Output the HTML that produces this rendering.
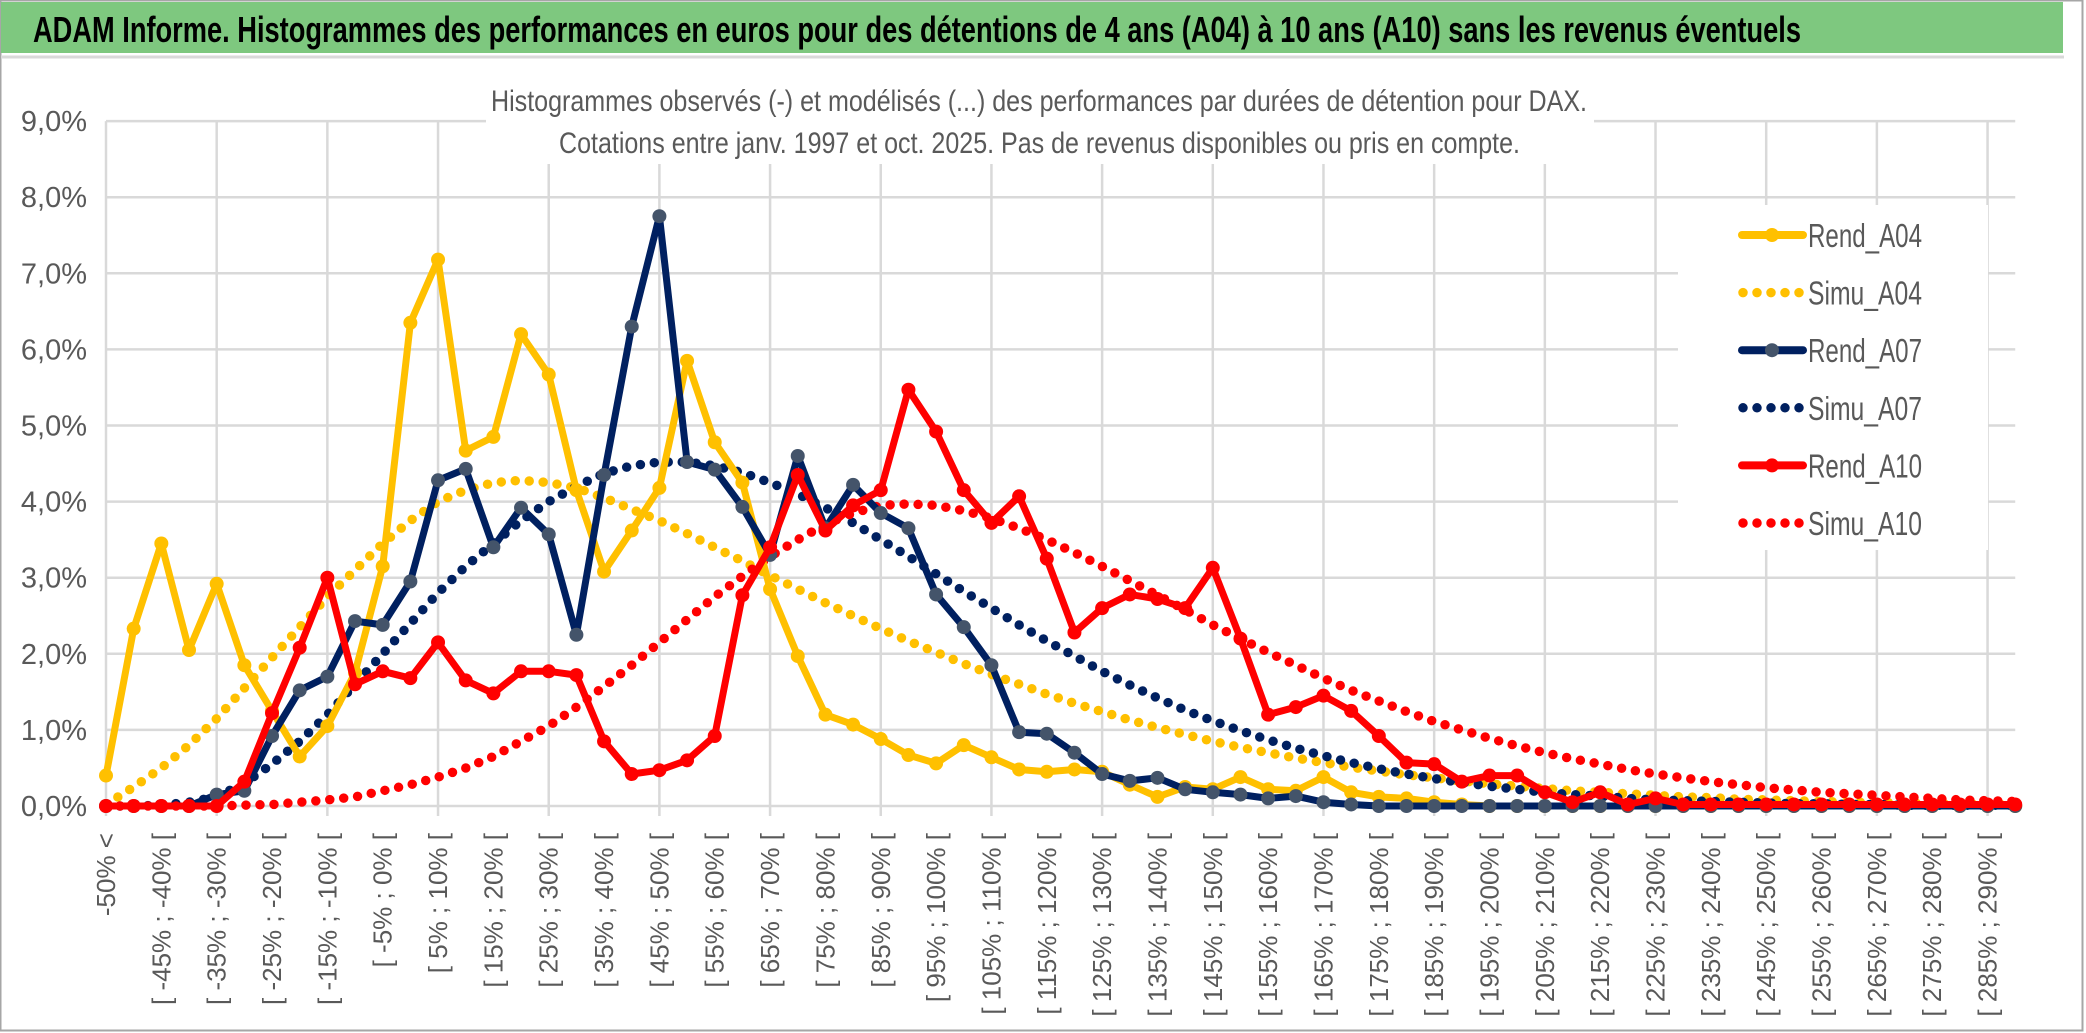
<!DOCTYPE html>
<html><head><meta charset="utf-8"><style>
html,body{margin:0;padding:0;background:#fff;}
svg{display:block;}
</style></head><body>
<svg id="chart" width="2086" height="1033" viewBox="0 0 2086 1033" xmlns="http://www.w3.org/2000/svg">
<rect x="0" y="0" width="2086" height="1033" fill="#fff"/>
<rect x="0.5" y="0.5" width="2082" height="1030" fill="none" stroke="#a6a6a6" stroke-width="2"/>
<rect x="1" y="2" width="2062" height="51" fill="#7ec87f"/>
<line x1="1" y1="57" x2="2064" y2="57" stroke="#d9d9d9" stroke-width="3"/>
<text x="33" y="42" font-family="'Liberation Sans Narrow','Liberation Sans',sans-serif" font-weight="bold" font-size="36" fill="#000" textLength="1768" lengthAdjust="spacingAndGlyphs">ADAM Informe. Histogrammes des performances en euros pour des détentions de 4 ans (A04) à 10 ans (A10) sans les revenus éventuels</text>
<g id="grid"></g>
<rect x="486" y="75" width="1108" height="89" fill="#fff"/>
<rect x="1678" y="205" width="310" height="345" fill="#fff"/>
<text x="491" y="111" font-family="'Liberation Sans Narrow','Liberation Sans',sans-serif" font-size="30" fill="#595959" textLength="1096" lengthAdjust="spacingAndGlyphs">Histogrammes observés (-) et modélisés (...) des performances par durées de détention pour DAX.</text>
<text x="559" y="153" font-family="'Liberation Sans Narrow','Liberation Sans',sans-serif" font-size="30" fill="#595959" textLength="961" lengthAdjust="spacingAndGlyphs">Cotations entre janv. 1997 et oct. 2025. Pas de revenus disponibles ou pris en compte.</text>
<g id="yaxis"></g>
<g id="xaxis"></g>
<g id="series"></g>
<g id="legend"></g>
</svg>
<script>
const categories = (function(){const c=["-50% <"];for(let k=1;k<70;k++){c.push("[ "+(-55+5*k)+"% ; "+(-50+5*k)+"% [");}return c;})();
const yTicks = [0,1,2,3,4,5,6,7,8,9];
const yTickLabels = ["0,0%","1,0%","2,0%","3,0%","4,0%","5,0%","6,0%","7,0%","8,0%","9,0%"];
const seriesNames = ["Rend_A04","Simu_A04","Rend_A07","Simu_A07","Rend_A10","Simu_A10"];
const rendA04 = [0.4,2.33,3.45,2.05,2.92,1.85,1.25,0.65,1.05,1.75,3.15,6.35,7.18,4.67,4.85,6.2,5.67,4.15,3.08,3.62,4.18,5.85,4.78,4.25,2.85,1.97,1.2,1.07,0.88,0.67,0.56,0.8,0.64,0.48,0.45,0.48,0.45,0.28,0.12,0.25,0.22,0.38,0.22,0.2,0.38,0.18,0.12,0.1,0.05,0.02,0,0,0,0,0,0,0,0,0,0,0,0,0,0,0,0,0,0,0,0];
const simuA04 = [0.02,0.25,0.5,0.8,1.15,1.55,1.95,2.35,2.75,3.1,3.45,3.75,4.0,4.15,4.25,4.28,4.25,4.18,4.05,3.9,3.75,3.58,3.4,3.22,3.03,2.85,2.67,2.5,2.33,2.17,2.02,1.87,1.73,1.6,1.47,1.35,1.24,1.13,1.03,0.94,0.85,0.77,0.7,0.63,0.57,0.51,0.46,0.41,0.37,0.33,0.29,0.26,0.23,0.2,0.18,0.16,0.14,0.12,0.11,0.09,0.08,0.07,0.06,0.05,0.05,0.04,0.03,0.03,0.03,0.02];
const rendA07 = [0,0,0,0,0.15,0.2,0.92,1.52,1.7,2.43,2.38,2.95,4.28,4.43,3.4,3.92,3.57,2.25,4.35,6.3,7.75,4.52,4.42,3.93,3.3,4.6,3.65,4.22,3.85,3.65,2.78,2.35,1.85,0.97,0.95,0.7,0.42,0.33,0.37,0.22,0.18,0.15,0.1,0.13,0.05,0.02,0,0,0,0,0,0,0,0,0,0,0,0,0,0,0,0,0,0,0,0,0,0,0,0];
const simuA07 = [0,0,0.01,0.05,0.12,0.3,0.55,0.85,1.2,1.6,2.0,2.4,2.8,3.15,3.45,3.75,4.0,4.2,4.37,4.47,4.52,4.52,4.47,4.38,4.25,4.1,3.92,3.72,3.5,3.28,3.05,2.82,2.6,2.38,2.17,1.97,1.77,1.59,1.42,1.26,1.12,0.99,0.87,0.76,0.66,0.57,0.49,0.42,0.36,0.31,0.26,0.22,0.18,0.15,0.13,0.1,0.08,0.07,0.06,0.05,0.04,0.03,0.03,0.02,0.02,0.01,0.01,0.01,0.01,0.01];
const rendA10 = [0,0,0,0,0,0.32,1.22,2.08,3.0,1.6,1.77,1.68,2.15,1.65,1.48,1.77,1.77,1.72,0.85,0.42,0.47,0.6,0.92,2.77,3.4,4.35,3.62,3.95,4.15,5.47,4.92,4.15,3.72,4.07,3.25,2.28,2.6,2.78,2.72,2.6,3.13,2.2,1.2,1.3,1.45,1.25,0.92,0.57,0.55,0.32,0.4,0.4,0.18,0.05,0.18,0.02,0.1,0.02,0.02,0.02,0.02,0.02,0.02,0.02,0.02,0.02,0.02,0.02,0.02,0.02];
const simuA10 = [0,0,0,0,0,0.01,0.02,0.05,0.08,0.12,0.2,0.28,0.38,0.5,0.65,0.85,1.05,1.3,1.57,1.85,2.15,2.45,2.75,3.02,3.28,3.5,3.7,3.85,3.95,3.97,3.95,3.88,3.78,3.65,3.5,3.33,3.15,2.96,2.77,2.58,2.38,2.2,2.02,1.85,1.68,1.52,1.38,1.24,1.11,1.0,0.89,0.79,0.7,0.62,0.55,0.48,0.42,0.37,0.32,0.28,0.24,0.21,0.18,0.16,0.14,0.12,0.1,0.08,0.07,0.06];

const NS="http://www.w3.org/2000/svg";
const X0=106, DX=27.67, Y0=806, DY=76.1;
function xs(i){return X0+i*DX;}
function ys(v){return Y0-v*DY;}
function mk(tag,attrs,parent){const e=document.createElementNS(NS,tag);for(const k in attrs)e.setAttribute(k,attrs[k]);parent.appendChild(e);return e;}
const FONT="'Liberation Sans Narrow','Liberation Sans',sans-serif";

const grid=document.getElementById('grid');
yTicks.forEach(function(t){
  const l=mk('line',{x1:X0,x2:xs(69),y1:ys(t),y2:ys(t),stroke:'#d9d9d9','stroke-width':2.5},grid);
  
  
});
for(let i=0;i<70;i+=4){
  const l=mk('line',{x1:xs(i),x2:xs(i),y1:ys(9),y2:Y0+10,stroke:'#d9d9d9','stroke-width':2.5},grid);
  
  
}
const ya=document.getElementById('yaxis');
yTicks.forEach(function(t,k){
  const tx=mk('text',{x:87,y:ys(t)+10,'text-anchor':'end','font-family':FONT,'font-size':29,fill:'#595959'},ya);
  tx.textContent=yTickLabels[k];
  
  
});
const xa=document.getElementById('xaxis');
for(let i=0;i<70;i+=2){
  const x=xs(i)+9;
  const tx=mk('text',{x:x,y:833,'text-anchor':'end','font-family':"'Liberation Sans',sans-serif",'font-size':26,fill:'#595959',transform:'rotate(-90 '+x+' 833)'},xa);
  tx.textContent=categories[i];
  
  
}
const sg=document.getElementById('series');
const styles=[
 {d:rendA04,c:'#FFC000',m:'#FFC000',dot:false},
 {d:simuA04,c:'#FFC000',dot:true},
 {d:rendA07,c:'#002060',m:'#44546A',dot:false},
 {d:simuA07,c:'#002060',dot:true},
 {d:rendA10,c:'#FF0000',m:'#FF0000',dot:false},
 {d:simuA10,c:'#FF0000',dot:true}
];
const order=[1,3,5,0,2,4];
order.forEach(function(si){
  const s=styles[si];
  const g=mk('g',{},sg);
  
  
  const pts=s.d.map(function(v,i){return xs(i).toFixed(1)+','+ys(v).toFixed(1);}).join(' ');
  if(s.dot){
    const p=mk('polyline',{points:pts,fill:'none',stroke:s.c,'stroke-width':9.5,'stroke-linecap':'round','stroke-dasharray':'0 14'},g);
    
    
  } else {
    const p=mk('polyline',{points:pts,fill:'none',stroke:s.c,'stroke-width':7,'stroke-linejoin':'round'},g);
    
    
    s.d.forEach(function(v,i){
      const c=mk('circle',{cx:xs(i),cy:ys(v),r:7,fill:s.m},g);
      
      
    });
  }
});
const lg=document.getElementById('legend');
seriesNames.forEach(function(n,k){
  const s=styles[k];
  const y=235+k*57.6;
  const g=mk('g',{},lg);
  
  
  if(s.dot){
    mk('line',{x1:1743,x2:1800,y1:y,y2:y,stroke:s.c,'stroke-width':9.5,'stroke-linecap':'round','stroke-dasharray':'0 14'},g);
  } else {
    mk('line',{x1:1742,x2:1803,y1:y,y2:y,stroke:s.c,'stroke-width':8,'stroke-linecap':'round'},g);
    mk('circle',{cx:1772,cy:y,r:7,fill:s.m},g);
  }
  const t=mk('text',{x:1808,y:y+12,'font-family':FONT,'font-size':33,fill:'#595959',textLength:114,lengthAdjust:'spacingAndGlyphs'},g);
  t.textContent=n;
});
</script>
</body></html>
